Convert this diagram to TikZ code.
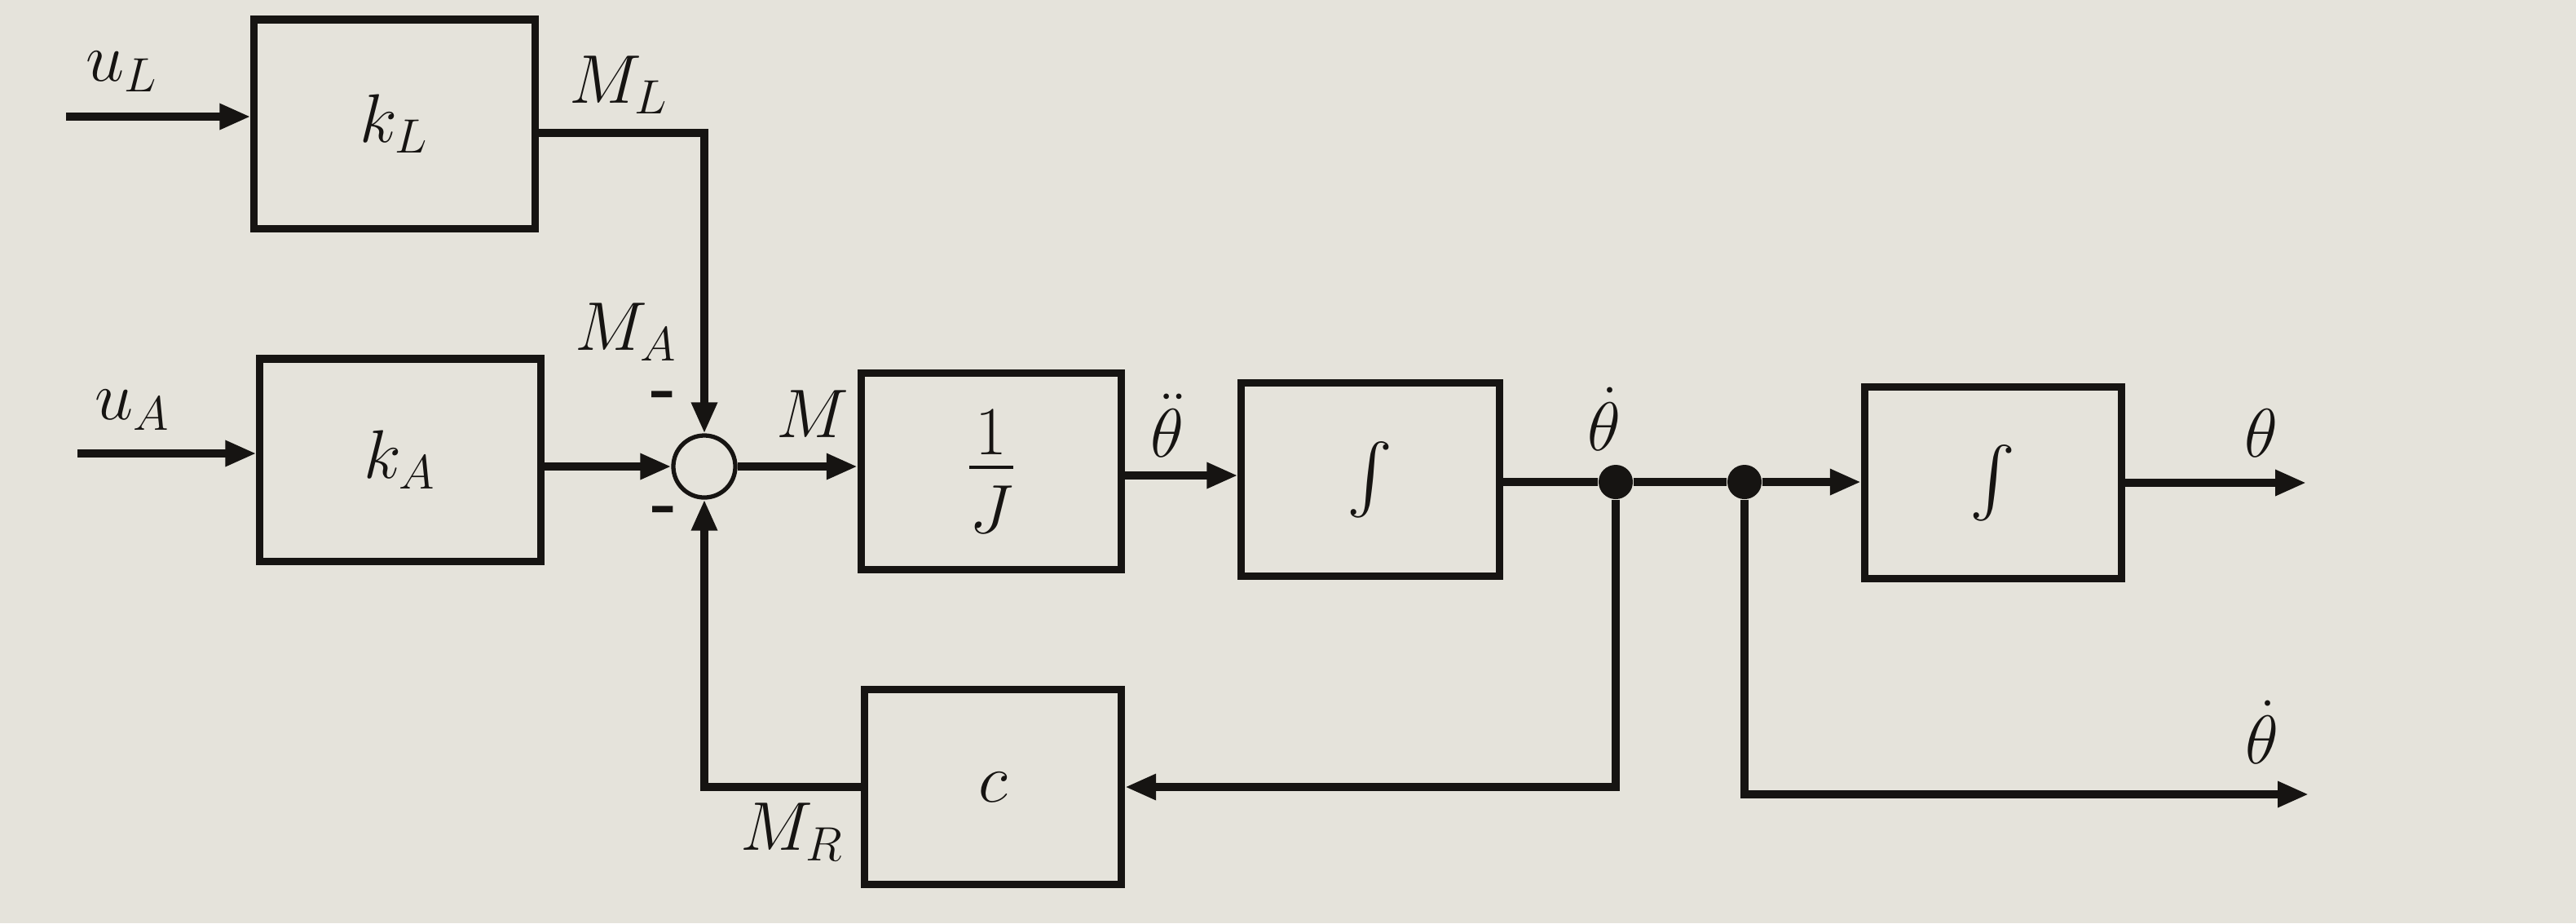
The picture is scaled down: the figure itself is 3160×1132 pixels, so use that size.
\documentclass[tikz,border=0pt]{standalone}
\usepackage{fix-cm}
\usepackage{amsmath}
\DeclareFontShape{OMX}{cmex}{m}{n}{<-> cmex10}{}
\usetikzlibrary{arrows.meta,calc}
\definecolor{paper}{RGB}{229,227,219}
\definecolor{ink}{RGB}{22,20,18}
\begin{document}
\begin{tikzpicture}[x=0.01cm,y=-0.01cm,
  every node/.style={font=\fontsize{24}{28}\selectfont, text=ink},
  blk/.style={draw=ink, line width=2.6pt, inner sep=0pt},
  sig/.style={draw=ink, line width=2.6pt, -{Triangle[length=0.38cm,width=0.30cm]}},
  lbl/.style={inner sep=0pt},
  junc/.style={circle, fill=ink, inner sep=0pt, minimum size=0.42cm},
  sumpt/.style={draw=ink, circle, line width=1.5pt, minimum size=0.76cm, inner sep=0pt}
]
\fill[paper] (0,0) rectangle (3160,1132);
\useasboundingbox (0,0) rectangle (3160,1132);

% blocks
\node[blk, minimum width=3.44cm, minimum height=2.56cm] (kL) at (484,152) {$k_L$};
\node[blk, minimum width=3.44cm, minimum height=2.48cm] (kA) at (491,564) {$k_A$};
\node[sumpt] (sum) at (864,572) {};
\node[blk, minimum width=3.19cm, minimum height=2.41cm] (invJ) at (1216,578) {$\dfrac{\raisebox{-0.24em}[0.45em][0pt]{$1$}}{\rule{0pt}{0.81em}J}$};
\node[blk, minimum width=3.16cm, minimum height=2.37cm] (int1) at (1681,588) {$\int$};
\node[blk, minimum width=3.15cm, minimum height=2.35cm] (int2) at (2445,592) {$\int$};
\node[blk, minimum width=3.15cm, minimum height=2.39cm] (cbox) at (1218,965) {$c$};
\node[junc] (d1) at (1982,591) {};
\node[junc] (d2) at (2140,591) {};

% free ends
\coordinate (uL) at (81,143);
\coordinate (uA) at (95,556);
\coordinate (thout) at (2829,592);
\coordinate (thdout) at (2832,974);

% connectors
\draw[sig] (uL) -- (uL -| kL.west);
\draw[sig] (uA) -- (uA -| kA.west);
\draw[sig] ($(kL.east)+(0,11)$) -| (sum.north);
\draw[sig] (sum.west -| kA.east) -- (sum.west);
\draw[sig] (sum.east) -- (sum.east -| invJ.west);
\draw[sig] ($(invJ.east)+(0,5)$) -- ($(int1.west)+(0,-5)$);
\draw[sig, -] (int1.east |- d1) -- (d1);
\draw[sig] (d1) -- (d2) -- (d2 -| int2.west);
\draw[sig] (int2.east) -- (thout);
\draw[sig] (d1) |- (cbox.east);
\draw[sig] (cbox.west) -| (sum.south);
\draw[sig] (d2) |- (thdout);

% labels
\node[lbl] (luL) at (150,88) {$u_L$};
\node[lbl] (lML) at (759,104) {$M_L$};
\node[lbl] (lMA) at (768,407) {$M_A$};
\node[lbl] (luA) at (163,503) {$u_A$};
\node[lbl] (lm1) at (814,491) {\textbf{-}};
\node[lbl] (lm2) at (815,632) {\textbf{-}};
\node[lbl] (lM) at (997,508) {$M$};
\node[lbl] (lthdd) at (1432,522) {$\ddot{\theta}$};
\node[lbl] (lthd1) at (1968,514) {$\dot{\theta}$};
\node[lbl] (lth) at (2774,531) {$\theta$};
\node[lbl] (lthd2) at (2775,898) {$\dot{\theta}$};
\node[lbl] (lMR) at (972,1020) {$M_R$};
\end{tikzpicture}
\end{document}
